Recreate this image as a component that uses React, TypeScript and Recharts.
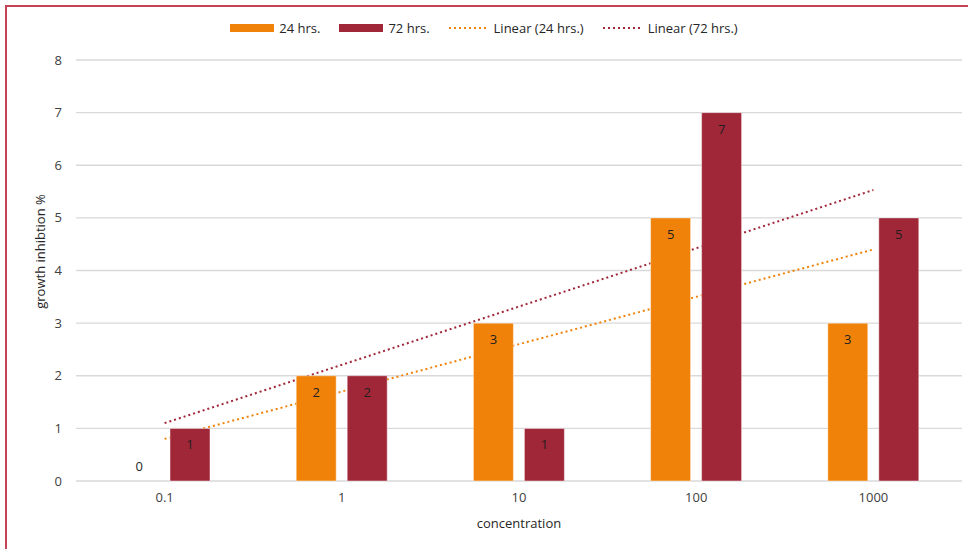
import { ComposedChart, Bar, Line, XAxis, YAxis, CartesianGrid, LabelList, Label } from 'recharts';

const categories = ['0.1', '1', '10', '100', '1000'];
const hrs24 = [0, 2, 3, 5, 3];
const hrs72 = [1, 2, 1, 7, 5];
// trendline end points, drawn between first and last category
const trend24 = [0.8, null, null, null, 4.4];
const trend72 = [1.1, null, null, null, 5.53];
const yTicks = [0, 1, 2, 3, 4, 5, 6, 7, 8];

const ORANGE = '#F0820A';
const WINE = '#A02738';
const FONT = '"Open Sans", Lato, sans-serif';
const FS = 13;

const data = categories.map((c, i) => ({
  conc: c,
  h24: hrs24[i],
  h72: hrs72[i],
  t24: trend24[i],
  t72: trend72[i],
}));

function BarValue(props: any) {
  const { x, y, width, value } = props;
  if (value == null || value === 0) return null;
  return (
    <text x={x + width / 2} y={y + 16} textAnchor="middle" dominantBaseline="central" fontSize={FS} fill="#1f1f1f">
      {value}
    </text>
  );
}

// zero-height bars get their label just above the baseline
function ZeroValue(props: any) {
  const { x, y, value } = props;
  if (value !== 0) return null;
  return (
    <text x={x - 25.5} y={y - 15} textAnchor="middle" dominantBaseline="central" fontSize={FS} fill="#1f1f1f">
      {value}
    </text>
  );
}

function YTitle(props: any) {
  const vb = props.viewBox || { x: 0, y: 0, width: 0, height: 0 };
  const cx = 40;
  const cy = vb.y + vb.height / 2 - 19;
  return (
    <text x={cx} y={cy} transform={`rotate(-90 ${cx} ${cy})`} textAnchor="middle" dominantBaseline="central" fontSize={FS} fill="#262626">
      growth inhibtion %
    </text>
  );
}

function LegendRow() {
  const item = (mark: any, text: string) => (
    <div style={{ display: 'flex', alignItems: 'center', gap: 5 }}>
      {mark}
      <span>{text}</span>
    </div>
  );
  const box = (c: string) => <div style={{ width: 44, height: 8, background: c }} />;
  const dots = (c: string) => (
    <svg width={40} height={4}>
      <line x1={0} y1={2} x2={40} y2={2} stroke={c} strokeWidth={2} strokeDasharray="2 3" />
    </svg>
  );
  return (
    <div
      style={{
        position: 'absolute',
        top: 19,
        left: 0,
        width: 968,
        display: 'flex',
        justifyContent: 'center',
        gap: 19,
        fontSize: FS,
        color: '#262626',
        lineHeight: '18px',
      }}
    >
      {item(box(ORANGE), '24 hrs.')}
      {item(box(WINE), '72 hrs.')}
      {item(dots(ORANGE), 'Linear (24 hrs.)')}
      {item(dots(WINE), 'Linear (72 hrs.)')}
    </div>
  );
}

export default function App() {
  return (
    <div
      style={{
        position: 'absolute',
        left: 0,
        top: 0,
        width: 968,
        height: 549,
        overflow: 'hidden',
        background: '#fff',
        fontFamily: FONT,
      }}
    >
      <div
        style={{
          position: 'absolute',
          left: 5,
          top: 5,
          width: 1100,
          height: 700,
          border: '2px solid #C44456',
        }}
      />
      <LegendRow />
      <div style={{ position: 'absolute', left: 0, top: 0 }}>
        <ComposedChart width={968} height={549} data={data} margin={{ top: 60, right: 6, bottom: 0, left: 0 }} barSize={40} barGap={11}>
          <CartesianGrid vertical={false} stroke="#D9D9D9" strokeWidth={1.3} />
          <XAxis
            dataKey="conc"
            height={68}
            axisLine={false}
            tickLine={false}
            tickMargin={6}
            tick={{ fontSize: FS, fill: '#404040' }}
          >
            <Label value="concentration" position="insideBottom" offset={21} fontSize={FS} fill="#262626" />
          </XAxis>
          <YAxis
            width={76}
            domain={[0, 8]}
            ticks={yTicks}
            axisLine={false}
            tickLine={false}
            tickMargin={8}
            tick={{ fontSize: FS, fill: '#404040' }}
          >
            <Label content={YTitle} />
          </YAxis>
          <Line dataKey="t24" stroke={ORANGE} strokeWidth={2} strokeDasharray="2 3" dot={false} connectNulls isAnimationActive={false} zIndex={250} legendType="none" />
          <Line dataKey="t72" stroke={WINE} strokeWidth={2} strokeDasharray="2 3" dot={false} connectNulls isAnimationActive={false} zIndex={250} legendType="none" />
          <Bar dataKey="h24" fill={ORANGE} stroke="rgba(255,255,255,0.45)" strokeWidth={1} isAnimationActive={false}>
            <LabelList dataKey="h24" content={BarValue} />
          </Bar>
          <Bar dataKey="h72" fill={WINE} stroke="rgba(255,255,255,0.45)" strokeWidth={1} isAnimationActive={false}>
            <LabelList dataKey="h72" content={BarValue} />
          </Bar>
          {/* carrier for the zero label of the 24 hrs. series */}
          <Line dataKey="h24" stroke="none" dot={false} activeDot={false} isAnimationActive={false} legendType="none">
            <LabelList dataKey="h24" content={ZeroValue} />
          </Line>
        </ComposedChart>
      </div>
    </div>
  );
}
